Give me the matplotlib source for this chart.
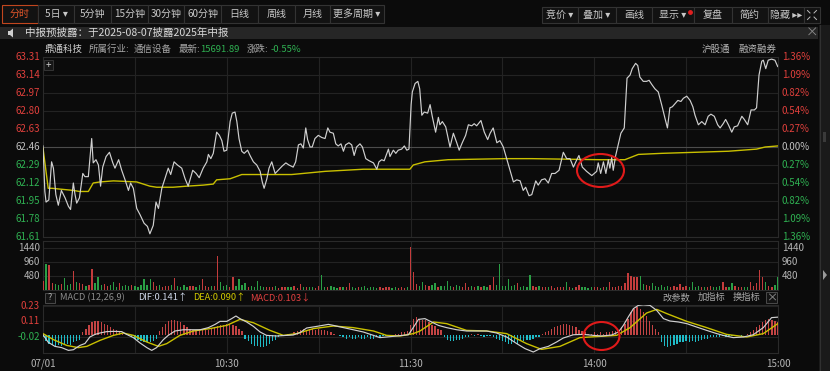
import numpy as np
import matplotlib
matplotlib.use('Agg')
import matplotlib.pyplot as plt
from matplotlib.patches import Rectangle, Ellipse, Polygon

plt.rcParams['font.family'] = ['Noto Sans CJK SC', 'DejaVu Sans']

W, H = 830, 371
BG = '#0b0b0b'
GRID = '#232323'
RED = '#e0403c'
GREEN = '#2fb152'
GRAY_TXT = '#b4b4b4'

# ---- data ----
# price line vertices: minute from 9:30 (0..240), price
price_t = [0, 0.6, 1.0, 1.9, 2.8, 3.4, 4.2, 5.0, 6.0, 7.2, 8.3, 9.0, 9.9, 10.4, 11.0, 11.9,
           13.0, 13.7, 14.8, 15.9, 16.4, 17.3, 18.1, 18.8, 19.5, 20.6, 21.7, 22.8, 23.5, 24.7,
           25.7, 26.8, 27.9, 28.6, 29.5, 30.6, 31.7, 33.0, 34.1, 34.9, 36.0, 36.9, 37.7, 38.8,
           39.8, 40.9, 41.7, 42.8, 43.9, 45.3, 46.4, 47.4, 48.9, 50.0, 51.0, 52.3, 53.5, 54.0,
           54.8, 55.6, 56.7, 57.6, 58.4, 59.1, 60.0, 61.1, 61.8, 62.7, 63.3, 64.0, 64.9, 65.7,
           66.8, 67.6, 68.7, 69.8, 70.9, 71.6, 72.2, 73.1, 73.8, 74.7, 75.8, 76.8, 78.1, 79.3,
           80.3, 81.7, 82.5, 83.4, 84.2, 85.0, 85.8, 86.4, 87.2, 87.9, 88.8, 89.9, 91.0, 92.1,
           93.0, 93.7, 94.8, 95.6, 96.4, 97.3, 98.1, 98.8, 99.9, 100.8, 101.6, 102.4, 103.5,
           104.3, 105.4, 106.5, 107.9, 109.0, 109.7, 110.6, 111.4, 112.8, 113.3, 114.4, 115.2,
           116.0, 117.1, 118.0, 118.8, 119.5, 120.2, 120.6, 121.5, 122.4, 123.0, 123.7, 124.5,
           125.6, 126.4, 127.1, 128.2, 129.1, 129.6, 130.4, 131.5, 132.9, 134.0, 135.1, 135.9,
           136.9, 138.0, 138.9, 140.0, 140.8, 141.6, 143.0, 144.1, 145.2, 146.0, 147.0, 148.2,
           149.2, 150.3, 151.4, 152.5, 153.6, 154.7, 155.8, 156.8, 157.6, 158.7, 159.6, 160.9,
           161.7, 162.8, 163.9, 165.0, 166.1, 167.2, 168.5, 169.9, 171.0, 172.1, 173.2, 174.3,
           175.0, 176.1, 177.5, 179.2, 180.8, 181.3, 182.1, 183.0, 183.8, 184.6, 185.1, 185.7,
           186.2, 187.0, 187.9, 188.7, 189.8, 190.7, 191.7, 192.4, 193.5, 194.2, 194.9, 196.0,
           197.1, 197.9, 198.8, 199.8, 200.9, 202.0, 203.1, 203.9, 204.7, 205.5, 206.4, 207.3,
           208.3, 209.1, 210.2, 211.3, 212.2, 212.9, 214.0, 215.1, 216.2, 217.2, 218.1, 219.2,
           220.3, 221.1, 222.1, 222.9, 223.8, 224.9, 225.7, 226.8, 228.2, 229.0, 230.1, 231.2,
           232.3, 233.0, 233.8, 234.7, 235.2, 236.0, 236.8, 237.9, 239.0, 239.9]
price_v = [62.47, 62.04, 61.94, 61.96, 62.32, 62.26, 62.01, 61.91, 62.05, 61.98, 61.90, 61.87,
           62.12, 62.02, 61.93, 61.98, 62.21, 62.18, 62.18, 62.54, 62.31, 62.34, 62.29, 62.09,
           62.27, 62.37, 62.41, 62.31, 62.26, 62.34, 62.24, 62.15, 62.05, 62.12, 62.07, 61.88,
           61.82, 61.74, 61.71, 61.64, 61.72, 61.94, 61.88, 62.07, 62.16, 62.26, 62.20, 62.32,
           62.29, 62.26, 62.16, 62.09, 62.24, 62.21, 62.17, 62.26, 62.32, 62.39, 62.35, 62.40,
           62.60, 62.57, 62.52, 62.42, 62.43, 62.70, 62.78, 62.79, 62.70, 62.54, 62.42, 62.40,
           62.43, 62.38, 62.32, 62.29, 62.23, 62.13, 62.07, 62.16, 62.26, 62.32, 62.21, 62.24,
           62.28, 62.31, 62.29, 62.27, 62.32, 62.48, 62.49, 62.45, 62.64, 62.53, 62.46, 62.46,
           62.54, 62.57, 62.55, 62.54, 62.64, 62.60, 62.59, 62.49, 62.47, 62.49, 62.42, 62.48,
           62.50, 62.48, 62.38, 62.46, 62.49, 62.46, 62.35, 62.33, 62.31, 62.25, 62.32, 62.34,
           62.33, 62.44, 62.37, 62.43, 62.40, 62.43, 62.44, 62.47, 62.43, 62.44, 62.86, 62.98,
           63.06, 63.08, 63.01, 62.76, 62.79, 62.78, 62.86, 62.75, 62.60, 62.74, 62.67, 62.70,
           62.65, 62.46, 62.59, 62.50, 62.43, 62.50, 62.57, 62.67, 62.66, 62.68, 62.66, 62.71,
           62.60, 62.53, 62.59, 62.64, 62.50, 62.52, 62.46, 62.35, 62.24, 62.13, 62.15, 62.14,
           62.05, 62.08, 62.00, 62.01, 62.14, 62.10, 62.15, 62.16, 62.12, 62.21, 62.21, 62.24,
           62.41, 62.35, 62.35, 62.27, 62.34, 62.38, 62.27, 62.23, 62.19, 62.23, 62.31, 62.21,
           62.32, 62.21, 62.34, 62.26, 62.36, 62.24, 62.38, 62.49, 62.59, 62.64, 63.11, 63.14,
           63.20, 63.25, 63.23, 63.12, 63.08, 63.08, 63.09, 63.05, 63.01, 62.98, 62.86, 62.73,
           62.64, 62.83, 62.84, 62.87, 62.90, 62.89, 62.92, 62.94, 62.90, 62.84, 62.76, 62.67,
           62.70, 62.67, 62.75, 62.77, 62.75, 62.67, 62.64, 62.68, 62.72, 62.67, 62.60, 62.65,
           62.66, 62.75, 62.72, 62.67, 62.81, 62.81, 62.83, 63.14, 63.27, 63.28, 63.20, 63.28,
           63.29, 63.28, 63.22]

# average price line vertices
avg_t = [0, 1.7, 2.9, 9.9, 11.9, 14.8, 16.4, 18.6, 23.0, 30.6, 34.9, 37.1, 42.5, 46.9, 52.3,
         55.6, 56.7, 61.1, 64.9, 81.2, 92.1, 104.6, 119.8, 120.9, 124.7, 132.3, 150.9, 159.6,
         181.9, 190.0, 194.4, 202.0, 212.9, 223.8, 233.0, 235.8, 239.9]
avg_v = [62.45, 62.07, 62.07, 62.05, 62.04, 62.04, 62.12, 62.13, 62.14, 62.13, 62.09, 62.08,
         62.08, 62.09, 62.10, 62.11, 62.15, 62.16, 62.20, 62.20, 62.23, 62.25, 62.25, 62.29,
         62.32, 62.34, 62.35, 62.35, 62.34, 62.34, 62.39, 62.40, 62.41, 62.42, 62.44, 62.46,
         62.47]

# per-minute volume
volume = [300, 880, 850, 240, 200, 180, 220, 400, 160, 200,
          660, 270, 250, 200, 150, 180, 720, 250, 430, 160,
          200, 140, 170, 290, 120, 250, 150, 180, 130, 160,
          150, 120, 180, 370, 160, 370, 290, 140, 170, 120,
          150, 130, 180, 400, 140, 120, 160, 110, 150, 130,
          120, 160, 380, 140, 110, 150, 130, 1160, 290, 150,
          180, 120, 460, 140, 380, 160, 230, 110, 150, 120,
          320, 130, 100, 120, 90, 110, 140, 80, 100, 120,
          90, 110, 130, 80, 200, 100, 120, 90, 110, 80,
          130, 510, 100, 90, 140, 110, 80, 120, 100, 90,
          250, 110, 80, 100, 90, 130, 70, 100, 90, 80,
          110, 70, 90, 100, 80, 120, 70, 90, 80, 100,
          1460, 630, 200, 150, 290, 180, 140, 160, 230, 120,
          150, 130, 320, 140, 110, 160, 130, 120, 250, 110,
          130, 100, 150, 120, 140, 110, 160, 430, 180, 890,
          150, 130, 370, 140, 160, 230, 120, 140, 110, 510,
          130, 100, 140, 120, 90, 110, 130, 80, 100, 120,
          90, 290, 110, 80, 100, 170, 90, 120, 80, 100,
          110, 90, 80, 120, 100, 290, 90, 110, 130, 130,
          250, 570, 480, 460, 430, 480, 200, 160, 150, 230,
          140, 120, 160, 110, 130, 100, 150, 120, 200, 110,
          130, 120, 290, 100, 140, 110, 90, 120, 130, 100,
          110, 140, 290, 120, 100, 230, 130, 90, 110, 120,
          100, 290, 140, 230, 680, 460, 290, 150, 120, 180,
          460]

# MACD lines
dif_t = [0, 1.7, 3.9, 6.1, 8.3, 9.9, 12.1, 13.7, 15.3, 17.0, 18.6, 20.8, 23.0, 25.7, 27.3, 29.5,
         31.7, 33.9, 35.5, 37.1, 39.3, 40.9, 43.1, 45.8, 48.5, 51.3, 54.0, 56.2, 57.8, 60.0,
         61.6, 63.0, 64.3, 66.5, 68.7, 70.9, 73.0, 76.3, 79.6, 81.7, 83.9, 86.1, 89.4, 93.2,
         94.8, 98.1, 101.3, 104.6, 107.9, 110.0, 112.2, 115.5, 119.3, 120.9, 122.6, 124.7,
         126.9, 129.1, 131.8, 135.1, 138.3, 141.6, 144.9, 148.1, 151.4, 154.7, 157.4, 160.1,
         162.3, 165.0, 167.7, 169.9, 173.2, 176.4, 179.7, 182.4, 185.7, 187.9, 189.5, 191.1,
         192.8, 194.4, 196.0, 198.2, 200.4, 202.6, 204.7, 207.5, 210.2, 213.4, 216.7, 220.0,
         222.1, 225.4, 228.7, 231.9, 235.2, 237.9, 240.0]
dif_v = [0.0, -0.06, -0.093, -0.103, -0.125, -0.12, -0.085, -0.07, -0.018, 0.003, 0.014, 0.025,
         0.027, 0.025, 0.003, -0.023, -0.066, -0.103, -0.125, -0.103, -0.039, -0.005, 0.03,
         0.04, 0.04, 0.04, 0.057, 0.083, 0.107, 0.107, 0.129, 0.15, 0.129, 0.102, 0.067,
         0.022, -0.005, -0.01, -0.005, -0.002, 0.017, 0.054, 0.067, 0.083, 0.075, 0.057, 0.04,
         0.022, -0.005, -0.023, -0.018, -0.01, 0.0, 0.057, 0.123, 0.129, 0.102, 0.075, 0.057,
         0.04, 0.03, 0.03, 0.03, 0.014, -0.018, -0.071, -0.111, -0.138, -0.111, -0.093,
         -0.058, -0.026, 0.0, 0.003, -0.005, -0.01, -0.002, 0.022, 0.075, 0.142, 0.209, 0.235,
         0.24, 0.235, 0.195, 0.129, 0.11, 0.102, 0.089, 0.062, 0.035, 0.009, -0.005, -0.023,
         -0.018, 0.0, 0.057, 0.137, 0.141]
dea_t = [0, 3.4, 7.7, 11.5, 14.3, 18.6, 23.0, 26.2, 29.5, 33.9, 37.7, 40.4, 44.7, 49.1, 54.5,
         60.0, 64.3, 68.7, 74.1, 78.5, 82.8, 88.3, 94.8, 101.3, 107.9, 112.2, 116.6, 120.9,
         123.1, 127.5, 131.8, 138.3, 144.9, 151.4, 157.9, 162.8, 168.8, 175.3, 181.9, 187.3,
         191.7, 197.1, 200.4, 203.7, 210.2, 216.7, 223.2, 229.8, 235.2, 240.0]
dea_v = [0.009, -0.039, -0.085, -0.103, -0.093, -0.045, -0.005, 0.014, -0.005, -0.058, -0.093,
         -0.071, -0.005, 0.03, 0.049, 0.075, 0.123, 0.096, 0.035, -0.005, 0.009, 0.049, 0.07,
         0.057, 0.03, -0.005, -0.01, 0.009, 0.03, 0.102, 0.089, 0.035, 0.03, 0.009, -0.071,
         -0.117, -0.093, -0.023, -0.013, -0.005, 0.057, 0.174, 0.203, 0.169, 0.107, 0.057,
         0.003, -0.018, 0.009, 0.090]

# per-minute MACD histogram
macd_bar = [-0.02, -0.05, -0.07, -0.08, -0.09, -0.08, -0.09, -0.08, -0.07, -0.08,
            -0.06, -0.05, -0.04, 0.02, 0.05, 0.08, 0.10, 0.11, 0.11, 0.10,
            0.09, 0.08, 0.06, 0.05, 0.04, 0.03, 0.01, 0.00, -0.01, -0.02,
            -0.03, -0.04, -0.05, -0.06, -0.06, -0.06, -0.05, -0.03, 0.03, 0.06,
            0.09, 0.11, 0.12, 0.12, 0.11, 0.10, 0.08, 0.06, 0.05, 0.04,
            0.04, 0.05, 0.04, 0.05, 0.04, 0.05, 0.06, 0.07, 0.08, 0.08,
            0.09, 0.09, 0.08, 0.07, 0.05, 0.03, -0.03, -0.05, -0.07, -0.09,
            -0.09, -0.10, -0.10, -0.09, -0.07, -0.05, -0.04, -0.02, -0.01, 0.00,
            0.01, 0.00, 0.02, 0.03, 0.04, 0.05, 0.04, 0.05, 0.05, 0.04,
            0.05, 0.04, 0.04, 0.03, 0.02, 0.01, 0.00, -0.01, -0.02, -0.03,
            -0.02, -0.03, -0.03, -0.02, -0.03, -0.03, -0.02, -0.03, -0.03, -0.02,
            -0.02, -0.01, -0.01, 0.00, 0.00, 0.01, 0.01, 0.02, 0.02, 0.03,
            0.08, 0.13, 0.14, 0.13, 0.12, 0.12, 0.10, 0.08, 0.07, 0.05,
            0.04, -0.02, -0.04, -0.05, -0.05, -0.04, -0.04, -0.03, -0.02, -0.02,
            0.01, -0.01, 0.01, -0.01, -0.02, -0.01, -0.01, -0.02, -0.03, -0.04,
            -0.05, -0.06, -0.07, -0.07, -0.06, -0.07, -0.05, -0.05, -0.04, -0.04,
            -0.03, -0.02, -0.02, 0.01, 0.02, 0.03, 0.05, 0.06, 0.07, 0.08,
            0.09, 0.09, 0.08, 0.07, 0.06, 0.04, 0.03, 0.02, 0.01, 0.01,
            0.02, 0.01, 0.02, 0.01, 0.02, 0.02, 0.03, 0.03, 0.04, 0.06,
            0.09, 0.13, 0.18, 0.21, 0.22, 0.21, 0.18, 0.15, 0.11, 0.08,
            0.05, 0.02, -0.06, -0.09, -0.10, -0.09, -0.08, -0.07, -0.06, -0.06,
            -0.05, -0.06, -0.05, -0.06, -0.05, -0.04, -0.03, -0.03, -0.02, -0.02,
            -0.02, -0.02, -0.01, -0.02, -0.01, -0.01, -0.01, 0.00, -0.01, 0.00,
            0.01, 0.02, 0.04, 0.06, 0.08, 0.10, 0.12, 0.13, 0.12, 0.11,
            0.10]

price_ticks = [63.31, 63.14, 62.97, 62.80, 62.63, 62.46, 62.29, 62.12, 61.95, 61.78, 61.61]
pct_labels = ['1.36%', '1.09%', '0.82%', '0.54%', '0.27%', '0.00%',
              '0.27%', '0.54%', '0.82%', '1.09%', '1.36%']
vol_ticks = [1440, 960, 480]
macd_ticks = [0.23, 0.11, -0.02]
time_ticks = [0, 60, 120, 180, 240]
time_labels = ['07/01', '10:30', '11:30', '14:00', '15:00']
prev_close = 62.46


def px_rect(x0, y0, x1, y1):
    return [x0 / W, 1 - y1 / H, (x1 - x0) / W, (y1 - y0) / H]


def style_axes(ax):
    ax.set_facecolor(BG)
    ax.set_xlim(0, 240)
    ax.set_xticks([])
    ax.set_yticks([])
    for s in ax.spines.values():
        s.set_color('#2a2a2a')
        s.set_linewidth(0.8)
    for m in range(30, 240, 30):
        ax.axvline(m, color=GRID, lw=0.8, zorder=0)


fig = plt.figure(figsize=(W / 100, H / 100), dpi=100, facecolor=BG)

# background / furniture layer in pixel coordinates
bg = fig.add_axes([0, 0, 1, 1], zorder=0)
bg.set_xlim(0, W)
bg.set_ylim(H, 0)
bg.axis('off')

# top toolbar
left_btns = [('分时', 2, 38), ('5日 ▾', 38, 74), ('5分钟', 74, 111), ('15分钟', 111, 148),
             ('30分钟', 148, 184), ('60分钟', 184, 221), ('日线', 221, 258), ('周线', 258, 295),
             ('月线', 295, 330), ('更多周期 ▾', 330, 384)]
for i, (lab, x0, x1) in enumerate(left_btns):
    bg.add_patch(Rectangle((x0, 5), x1 - x0, 18, facecolor='#121212',
                           edgecolor='#c2461e' if i == 0 else '#333333', lw=0.8))
    bg.text((x0 + x1) / 2, 14, lab, color='#e0552a' if i == 0 else '#c8c8c8',
            fontsize=7.2, ha='center', va='center')
right_btns = [('竞价 ▾', 542, 578), ('叠加 ▾', 578, 616), ('画线', 616, 652),
              ('显示 ▾', 652, 694), ('复盘', 694, 732), ('简约', 732, 768),
              ('隐藏 ▸▸', 768, 804), ('', 804, 820)]
for lab, x0, x1 in right_btns:
    bg.add_patch(Rectangle((x0, 7), x1 - x0, 16, facecolor='#121212',
                           edgecolor='#333333', lw=0.8))
    bg.text((x0 + x1) / 2, 15, lab, color='#c8c8c8', fontsize=7.2, ha='center', va='center')
bg.plot([690], [11.5], 'o', color='#e02020', ms=2.5)
for dx, dy in [(-1, -1), (1, -1), (-1, 1), (1, 1)]:
    bg.plot([812 + dx * 2, 812 + dx * 4.5], [15 + dy * 2, 15 + dy * 4.5], color='#bdbdbd', lw=0.7)

# notice bar
bg.add_patch(Rectangle((0, 27), 818, 12, facecolor='#262626', edgecolor='none'))
bg.add_patch(Polygon([[8, 31], [10, 31], [13, 28.5], [13, 37.5], [10, 35], [8, 35]],
                     closed=True, facecolor='#d0d0d0', edgecolor='none'))
bg.text(25, 33, '中报预披露：于2025-08-07披露2025年中报', color='#d8d8d8', fontsize=7.6,
        va='center')
bg.text(812, 33, '×', color='#8a8a8a', fontsize=9, ha='center', va='center')

# info line
info = [(45, '鼎通科技', '#d0d0d0'), (89, '所属行业:', '#a8a8a8'), (134, '通信设备', '#a8a8a8'),
        (179, '最新:', '#a8a8a8'), (200, '15691.89', GREEN), (247, '涨跌:', '#a8a8a8'),
        (271, '-0.55%', GREEN), (702, '沪股通', '#b8b8b8'), (738, '融资融券', '#b8b8b8')]
for x, t, c in info:
    bg.text(x, 49, t, color=c, fontsize=6.8, va='center')

# right edge strip
bg.add_patch(Rectangle((819, 25), 11, H - 25, facecolor='#1a1a1a', edgecolor='none'))
bg.plot([819.5, 819.5], [25, H], color='#303030', lw=0.8)
bg.add_patch(Rectangle((823, 132), 3, 10, facecolor='#3a3a3a', edgecolor='none'))
bg.add_patch(Polygon([[823, 270], [827, 275], [823, 280]], closed=True,
                     facecolor='#9a9a9a', edgecolor='none'))

# ---- price pane ----
ax_p = fig.add_axes(px_rect(43, 57, 778, 237), zorder=2)
style_axes(ax_p)
ax_p.set_ylim(61.61, 63.31)
for v in price_ticks:
    ax_p.axhline(v, color='#4c4c4c' if v == prev_close else GRID, lw=0.8, zorder=0)
ax_p.plot(avg_t, avg_v, color='#c9c000', lw=1.0, zorder=3)
ax_p.plot(price_t, price_v, color='#d0d0d0', lw=0.85, zorder=4)
tr_l = ax_p.get_yaxis_transform()
for v, pl in zip(price_ticks, pct_labels):
    c = RED if v > prev_close + 0.001 else (GREEN if v < prev_close - 0.001 else '#c0c0c0')
    ax_p.text(-0.004, v, f'{v:.2f}', transform=tr_l, color=c, fontsize=7, ha='right',
              va='center')
    ax_p.text(1.005, v, pl, transform=tr_l, color=c, fontsize=7, ha='left', va='center')
ax_p.add_patch(Rectangle((0.0015, 0.93), 0.012, 0.055, transform=ax_p.transAxes,
                         facecolor='#161616', edgecolor='#3a3a3a', lw=0.6, zorder=5))
ax_p.text(0.0075, 0.958, '+', transform=ax_p.transAxes, color='#c8c8c8', fontsize=7,
          ha='center', va='center', zorder=6)

# ---- volume pane ----
ax_v = fig.add_axes(px_rect(43, 241, 778, 290), zorder=2)
style_axes(ax_v)
ax_v.set_ylim(0, 1440 * 49 / 42)
minutes = np.arange(len(volume))
close = np.interp(minutes, price_t, price_v)
prev = np.concatenate([[prev_close], close[:-1]])
vcol = np.where(close >= prev, '#c43c3c', '#2a9f45')
for v in vol_ticks:
    ax_v.axhline(v, color=GRID, lw=0.8, zorder=0)
ax_v.bar(minutes, volume, width=0.42, color=vcol, zorder=3)
tr_v = ax_v.get_yaxis_transform()
for v in vol_ticks:
    ax_v.text(-0.004, v, str(v), transform=tr_v, color=GRAY_TXT, fontsize=7, ha='right',
              va='center')
    ax_v.text(1.005, v, str(v), transform=tr_v, color=GRAY_TXT, fontsize=7, ha='left',
              va='center')

# MACD header
bg.add_patch(Rectangle((45, 292.5), 10, 10, facecolor='#141414', edgecolor='#4a4a4a', lw=0.7))
bg.text(50, 297.5, '?', color='#b0b0b0', fontsize=6.5, ha='center', va='center')
hdr = [(60, 'MACD (12,26,9)', '#8c8c8c'), (138, 'DIF:0.141↑', '#cfd8ea'),
       (193, 'DEA:0.090↑', '#d0c800'), (250, 'MACD:0.103↓', '#e04040'),
       (662, '改参数', '#a8a8a8'), (698, '加指标', '#a8a8a8'), (733, '换指标', '#a8a8a8')]
for x, t, c in hdr:
    bg.text(x, 297.5, t, color=c, fontsize=6.7, va='center')
bg.add_patch(Rectangle((766, 292), 11, 11, facecolor='#141414', edgecolor='#4a4a4a', lw=0.7))
bg.text(771.5, 297.5, '×', color='#9a9a9a', fontsize=8, ha='center', va='center')

# ---- MACD pane ----
ax_m = fig.add_axes(px_rect(43, 305, 778, 353), zorder=2)
style_axes(ax_m)
ax_m.set_ylim(0.11 - 32 * 0.008, 0.11 + 16 * 0.008)
for v in macd_ticks:
    ax_m.axhline(v, color=GRID, lw=0.8, zorder=0)
mb = np.array(macd_bar)
ax_m.bar(minutes, mb, width=0.42, color=np.where(mb >= 0, '#c44444', '#1fbcc8'), zorder=3)
ax_m.plot(dea_t, dea_v, color='#c9c000', lw=1.0, zorder=4)
ax_m.plot(dif_t, dif_v, color='#d0d0d0', lw=0.85, zorder=5)
tr_m = ax_m.get_yaxis_transform()
for v in macd_ticks:
    ax_m.text(-0.004, v, f'{v:.2f}', transform=tr_m, color=RED if v > 0 else GREEN,
              fontsize=7, ha='right', va='center')
for m, lab in zip(time_ticks, time_labels):
    ax_m.text(m, -0.22, lab, transform=ax_m.get_xaxis_transform(), color=GRAY_TXT,
              fontsize=7, ha='center', va='center')

# red annotation circles
top = fig.add_axes([0, 0, 1, 1], zorder=10)
top.set_xlim(0, W)
top.set_ylim(H, 0)
top.axis('off')
top.patch.set_alpha(0)
top.add_patch(Ellipse((600.5, 170.5), 47, 33, fill=False, edgecolor='#e01a1a', lw=1.5))
top.add_patch(Ellipse((601.5, 336), 36, 28, fill=False, edgecolor='#e01a1a', lw=1.5))

fig.savefig('out.png', dpi=100, facecolor=BG)
